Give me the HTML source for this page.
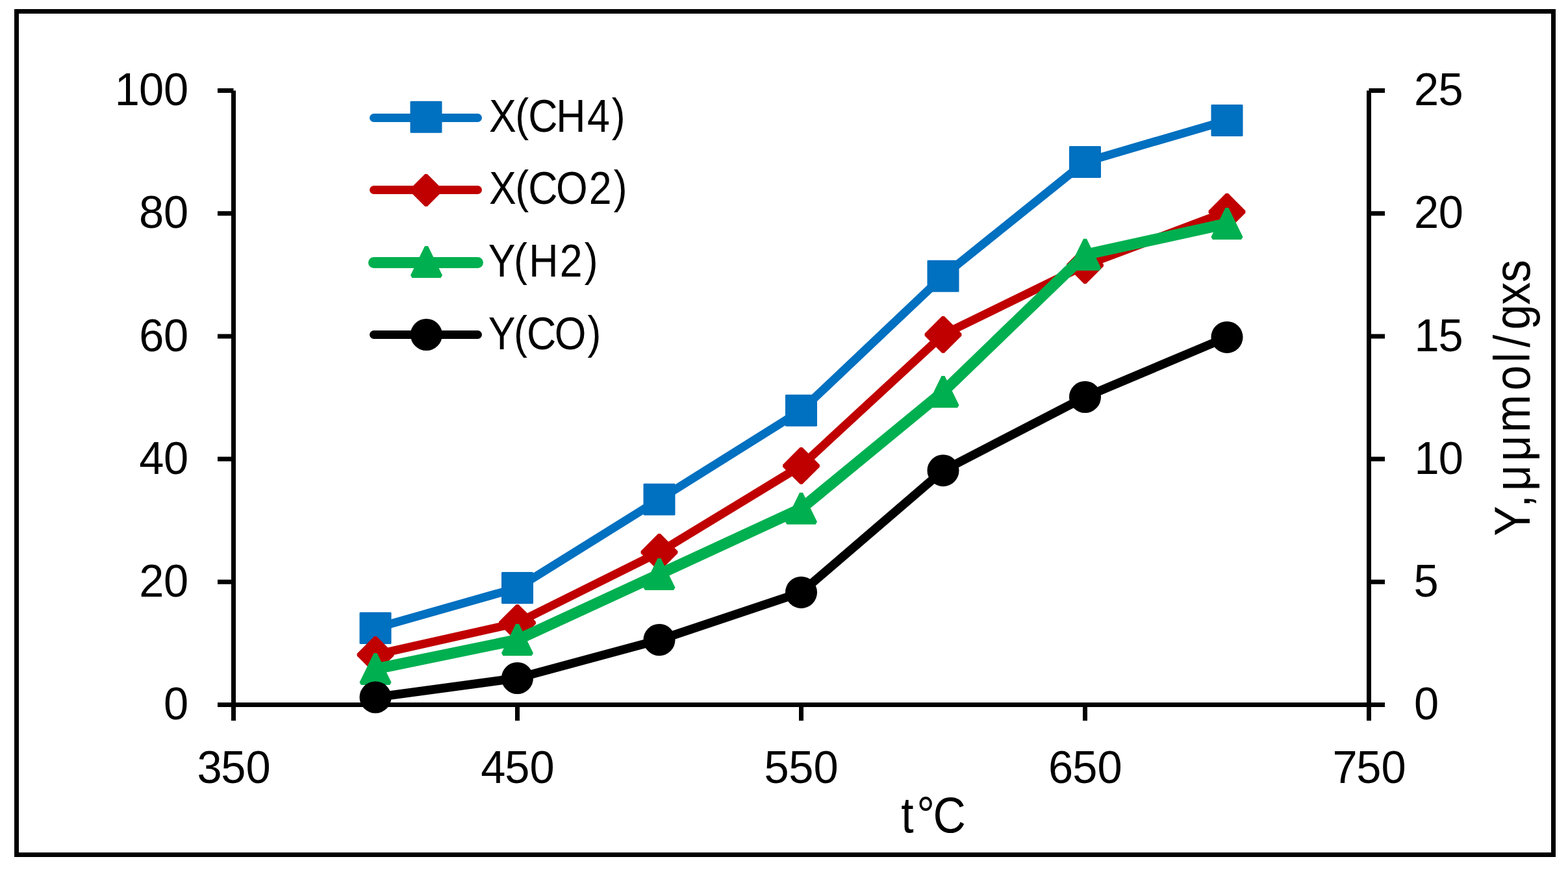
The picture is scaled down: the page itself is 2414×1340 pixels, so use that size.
<!DOCTYPE html>
<html><head><meta charset="utf-8"><title>Chart</title>
<style>html,body{margin:0;padding:0;background:#fff;}svg{display:block;}</style>
</head><body>
<svg width="2414" height="1340" viewBox="0 0 2414 1340">
<rect x="0" y="0" width="2414" height="1340" fill="#fff"/>
<rect x="25.5" y="17.5" width="2366" height="1299" fill="none" stroke="#000" stroke-width="7"/>

<path d="M359.5 139.5 V1110 M2107.5 139.5 V1110 M335 1085.5 H2132" fill="none" stroke="#000" stroke-width="7"/>
<path d="M335 139.5 H359.5 M2107.5 139.5 H2132 M335 328.7 H359.5 M2107.5 328.7 H2132 M335 517.9 H359.5 M2107.5 517.9 H2132 M335 707.1 H359.5 M2107.5 707.1 H2132 M335 896.3 H359.5 M2107.5 896.3 H2132 M335 1085.5 H359.5 M2107.5 1085.5 H2132 M796.5 1085.5 V1110 M1233.5 1085.5 V1110 M1670.5 1085.5 V1110" fill="none" stroke="#000" stroke-width="7"/>
<g font-family="'Liberation Sans', Arial, sans-serif" fill="#000"><text transform="translate(289.93,162.15) scale(0.9800,1)" x="-115.39 -77.39 -38.77" y="0" font-size="70.0">100</text><text transform="translate(289.93,351.35) scale(0.9800,1)" x="-77.39 -38.77" y="0" font-size="70.0">80</text><text transform="translate(289.93,540.55) scale(0.9800,1)" x="-77.24 -38.77" y="0" font-size="70.0">60</text><text transform="translate(289.93,729.75) scale(0.9800,1)" x="-77.15 -38.77" y="0" font-size="70.0">40</text><text transform="translate(289.93,918.95) scale(0.9800,1)" x="-77.30 -38.77" y="0" font-size="70.0">20</text><text transform="translate(289.93,1108.15) scale(0.9800,1)" x="-38.77" y="0" font-size="70.0">0</text><text transform="translate(2177.15,162.15) scale(0.9800,1)" x="-0.06 38.01" y="0" font-size="70.0">25</text><text transform="translate(2177.15,351.35) scale(0.9800,1)" x="-0.06 38.46" y="0" font-size="70.0">20</text><text transform="translate(2177.15,540.55) scale(0.9800,1)" x="0.47 38.01" y="0" font-size="70.0">15</text><text transform="translate(2177.15,729.75) scale(0.9800,1)" x="0.47 38.46" y="0" font-size="70.0">10</text><text transform="translate(2177.15,918.95) scale(0.9800,1)" x="-0.61" y="0" font-size="70.0">5</text><text transform="translate(2177.15,1108.15) scale(0.9800,1)" x="-0.16" y="0" font-size="70.0">0</text><text transform="translate(359.80,1206.25) scale(0.9800,1)" x="-57.56 -19.92 19.15" y="0" font-size="70.0">350</text><text transform="translate(796.80,1206.25) scale(0.9800,1)" x="-57.84 -19.92 19.15" y="0" font-size="70.0">450</text><text transform="translate(1233.80,1206.25) scale(0.9800,1)" x="-58.54 -19.92 19.15" y="0" font-size="70.0">550</text><text transform="translate(1670.80,1206.25) scale(0.9800,1)" x="-57.93 -19.92 19.15" y="0" font-size="70.0">650</text><text transform="translate(2107.80,1206.25) scale(0.9800,1)" x="-57.52 -19.92 19.15" y="0" font-size="70.0">750</text></g>
<g font-family="'Liberation Sans', Arial, sans-serif" fill="#000">
<text transform="translate(1383.40,1282.30) scale(0.9000,1)" x="4.35 31.04 58.90" y="0" font-size="77.4">t°C</text>
<text transform="translate(2355.00,822.80) rotate(-90) scale(0.9000,1)" x="-3.34 45.81 74.00 124.71 174.30 245.82 293.63 319.82 350.13 392.46 430.82" y="0" font-size="77.4">Y,μμmol/gxs</text>
</g>
<polyline points="578,967.4 796.5,905.4 1015,769.2 1233.5,632.3 1452,425.2 1670.5,249.4 1889,185.4" fill="none" stroke="#0070C0" stroke-width="13" stroke-linejoin="round" stroke-linecap="round"/><rect x="554.50" y="943.90" width="47.00" height="47.00" fill="#0070C0" stroke="#0070C0" stroke-width="2" stroke-linejoin="bevel"/><rect x="773.00" y="881.90" width="47.00" height="47.00" fill="#0070C0" stroke="#0070C0" stroke-width="2" stroke-linejoin="bevel"/><rect x="991.50" y="745.70" width="47.00" height="47.00" fill="#0070C0" stroke="#0070C0" stroke-width="2" stroke-linejoin="bevel"/><rect x="1210.00" y="608.80" width="47.00" height="47.00" fill="#0070C0" stroke="#0070C0" stroke-width="2" stroke-linejoin="bevel"/><rect x="1428.50" y="401.70" width="47.00" height="47.00" fill="#0070C0" stroke="#0070C0" stroke-width="2" stroke-linejoin="bevel"/><rect x="1647.00" y="225.90" width="47.00" height="47.00" fill="#0070C0" stroke="#0070C0" stroke-width="2" stroke-linejoin="bevel"/><rect x="1865.50" y="161.90" width="47.00" height="47.00" fill="#0070C0" stroke="#0070C0" stroke-width="2" stroke-linejoin="bevel"/>
<polyline points="578,1008.4 796.5,959.3 1015,850.5 1233.5,717.4 1452,515.4 1670.5,408.5 1889,326.2" fill="none" stroke="#C00000" stroke-width="13" stroke-linejoin="round" stroke-linecap="round"/><polygon points="578,981.77 604.63,1008.4 578,1035.03 551.37,1008.4" fill="#C00000" stroke="#C00000" stroke-width="5" stroke-linejoin="bevel"/><polygon points="796.5,932.67 823.13,959.3 796.5,985.93 769.87,959.3" fill="#C00000" stroke="#C00000" stroke-width="5" stroke-linejoin="bevel"/><polygon points="1015,823.87 1041.63,850.5 1015,877.13 988.37,850.5" fill="#C00000" stroke="#C00000" stroke-width="5" stroke-linejoin="bevel"/><polygon points="1233.5,690.77 1260.13,717.4 1233.5,744.03 1206.87,717.4" fill="#C00000" stroke="#C00000" stroke-width="5" stroke-linejoin="bevel"/><polygon points="1452,488.77 1478.63,515.4 1452,542.03 1425.37,515.4" fill="#C00000" stroke="#C00000" stroke-width="5" stroke-linejoin="bevel"/><polygon points="1670.5,381.87 1697.13,408.5 1670.5,435.13 1643.87,408.5" fill="#C00000" stroke="#C00000" stroke-width="5" stroke-linejoin="bevel"/><polygon points="1889,299.57 1915.63,326.2 1889,352.83 1862.37,326.2" fill="#C00000" stroke="#C00000" stroke-width="5" stroke-linejoin="bevel"/>
<polyline points="578,1030.4 796.5,985.4 1015,884.4 1233.5,783.3 1452,603.5 1670.5,392.3 1889,344.4" fill="none" stroke="#00B050" stroke-width="17" stroke-linejoin="round" stroke-linecap="round"/><polygon points="578,1007.13 600.04,1052.15 555.96,1052.15" fill="#00B050" stroke="#00B050" stroke-width="5.5" stroke-linejoin="bevel"/><polygon points="796.5,962.13 818.54,1007.15 774.46,1007.15" fill="#00B050" stroke="#00B050" stroke-width="5.5" stroke-linejoin="bevel"/><polygon points="1015,861.13 1037.04,906.15 992.96,906.15" fill="#00B050" stroke="#00B050" stroke-width="5.5" stroke-linejoin="bevel"/><polygon points="1233.5,760.03 1255.54,805.05 1211.46,805.05" fill="#00B050" stroke="#00B050" stroke-width="5.5" stroke-linejoin="bevel"/><polygon points="1452,580.23 1474.04,625.25 1429.96,625.25" fill="#00B050" stroke="#00B050" stroke-width="5.5" stroke-linejoin="bevel"/><polygon points="1670.5,369.03 1692.54,414.05 1648.46,414.05" fill="#00B050" stroke="#00B050" stroke-width="5.5" stroke-linejoin="bevel"/><polygon points="1889,321.13 1911.04,366.15 1866.96,366.15" fill="#00B050" stroke="#00B050" stroke-width="5.5" stroke-linejoin="bevel"/>
<polyline points="578,1074.0 796.5,1044.5 1015,985.5 1233.5,912.4 1452,724.7 1670.5,611.5 1889,519.4" fill="none" stroke="#000000" stroke-width="13.5" stroke-linejoin="round" stroke-linecap="round"/><circle cx="578" cy="1074.0" r="24.5" fill="#000000"/><circle cx="796.5" cy="1044.5" r="24.5" fill="#000000"/><circle cx="1015" cy="985.5" r="24.5" fill="#000000"/><circle cx="1233.5" cy="912.4" r="24.5" fill="#000000"/><circle cx="1452" cy="724.7" r="24.5" fill="#000000"/><circle cx="1670.5" cy="611.5" r="24.5" fill="#000000"/><circle cx="1889" cy="519.4" r="24.5" fill="#000000"/>
<line x1="575.5" y1="181.5" x2="735.5" y2="181.5" stroke="#0070C0" stroke-width="13" stroke-linecap="round"/>
<rect x="632.50" y="156.80" width="47.00" height="47.00" fill="#0070C0" stroke="#0070C0" stroke-width="2" stroke-linejoin="bevel"/>
<g font-family="'Liberation Sans', Arial, sans-serif" fill="#000"><text transform="translate(754.50,202.80) scale(0.9000,1)" x="-1.73 43.06 65.31 113.16 166.06 208.19" y="0 -1.5 0 0 0 -1.5" font-size="69.6">X(CH4)</text></g>
<line x1="575.5" y1="292.5" x2="735.5" y2="292.5" stroke="#C00000" stroke-width="13" stroke-linecap="round"/>
<polygon points="656,269.77 679.23,293.0 656,316.23 632.77,293.0" fill="#C00000" stroke="#C00000" stroke-width="5" stroke-linejoin="bevel"/>
<g font-family="'Liberation Sans', Arial, sans-serif" fill="#000"><text transform="translate(754.50,313.90) scale(0.9000,1)" x="-1.73 43.06 65.31 112.87 169.16 211.43" y="0 -1.5 0 0 0 -1.5" font-size="69.6">X(CO2)</text></g>
<line x1="575.5" y1="404.5" x2="735.5" y2="404.5" stroke="#00B050" stroke-width="17" stroke-linecap="round"/>
<polygon points="656.5,380.13 678.54,425.15 634.46,425.15" fill="#00B050" stroke="#00B050" stroke-width="5.5" stroke-linejoin="bevel"/>
<g font-family="'Liberation Sans', Arial, sans-serif" fill="#000"><text transform="translate(754.50,425.70) scale(0.9000,1)" x="-3.00 40.43 66.29 119.05 161.32" y="0 -1.5 0 0 -1.5" font-size="69.6">Y(H2)</text></g>
<line x1="575.5" y1="515.5" x2="735.5" y2="515.5" stroke="#000000" stroke-width="13" stroke-linecap="round"/>
<circle cx="656.4" cy="515.5" r="24.5" fill="#000000"/>
<g font-family="'Liberation Sans', Arial, sans-serif" fill="#000"><text transform="translate(754.50,537.60) scale(0.9000,1)" x="-3.00 40.43 62.68 110.24 166.75" y="0 -1.5 0 0 -1.5" font-size="69.6">Y(CO)</text></g>
</svg>
</body></html>
